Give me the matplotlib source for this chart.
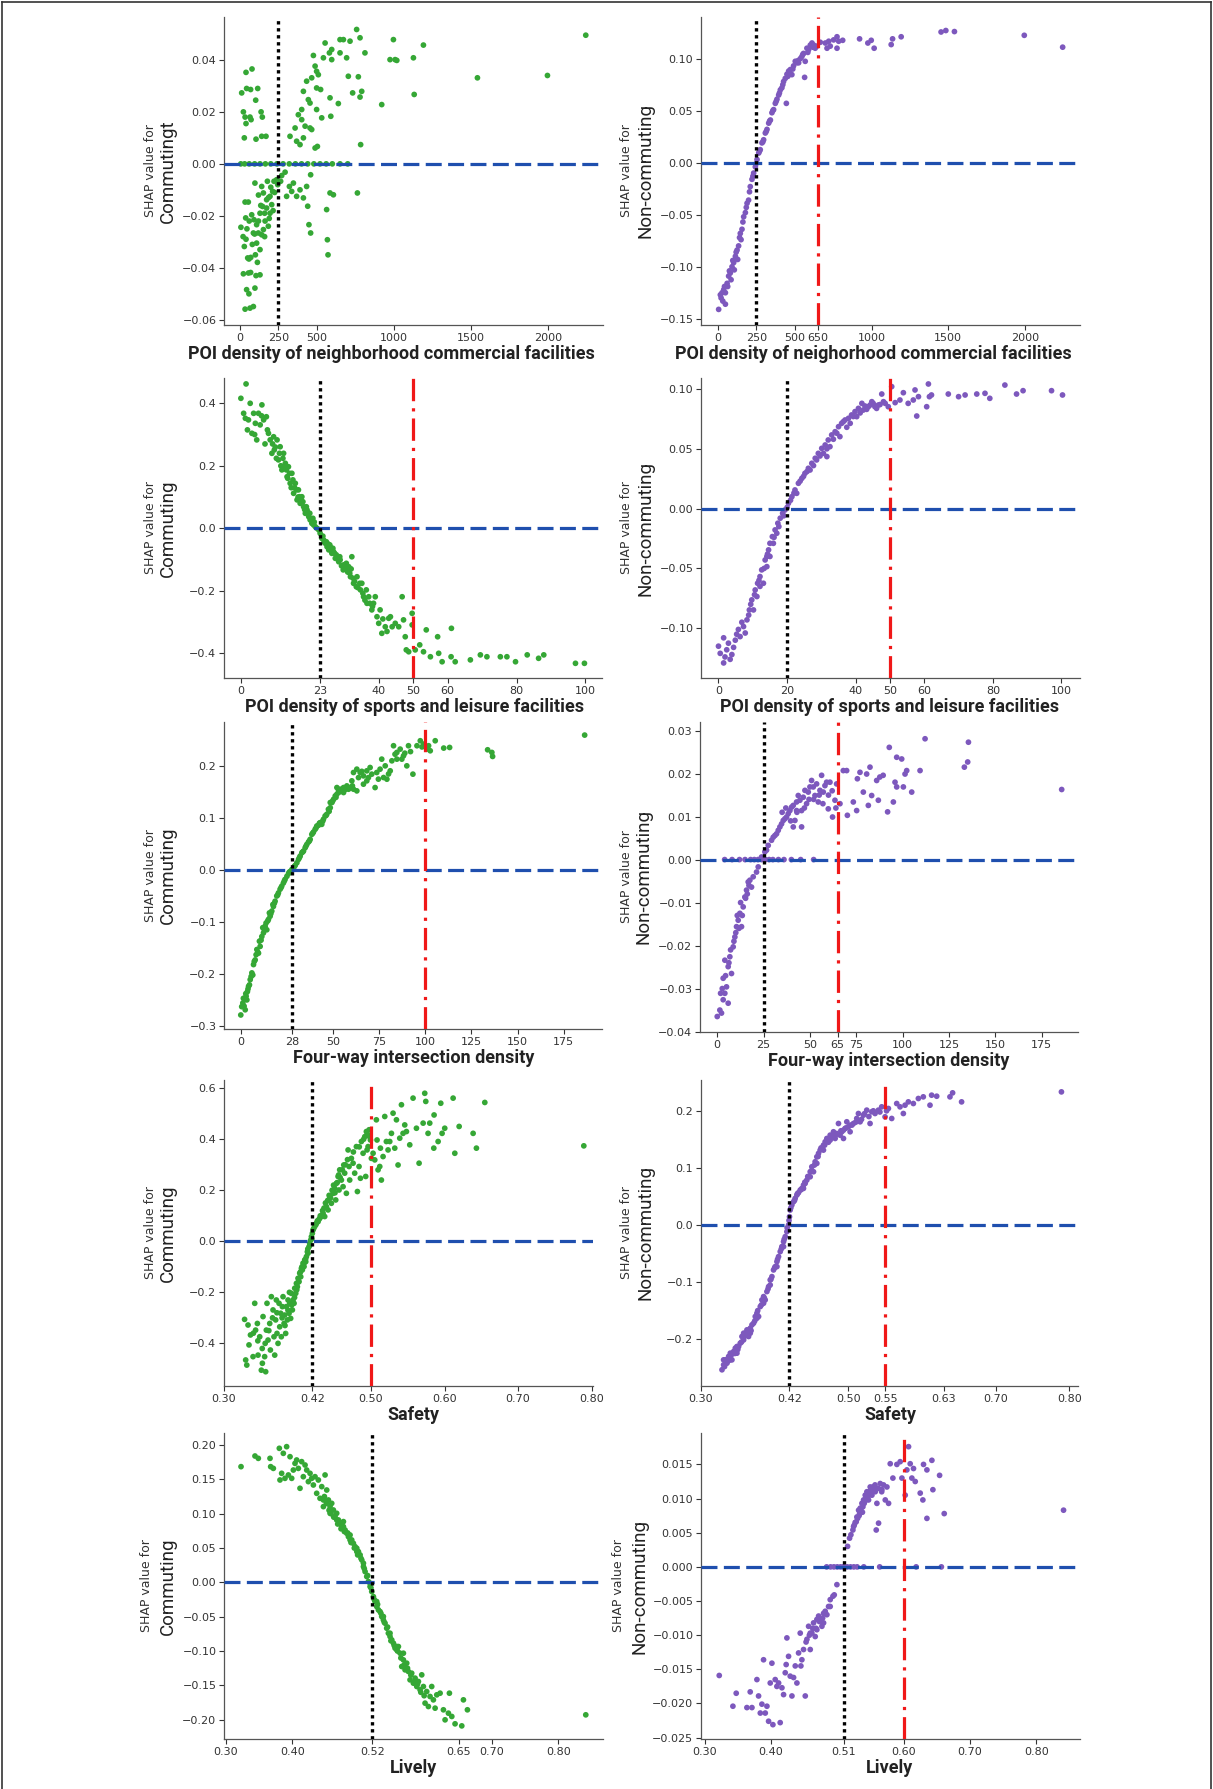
import numpy as np
import matplotlib
matplotlib.use("Agg")
import matplotlib.pyplot as plt
from matplotlib.lines import Line2D

# ---------------- data ----------------
# Panel 1: commuting vs POI density of neighborhood commercial facilities
p1_pts = [(11,0.0273),(39,0.0352),(78,0.0365),(43,0.029),(69,0.0286),(115,0.029),(102,0.0245),(22,0.020),(33,0.018),(39,0.0155),(65,0.018),(137,0.020),(145,0.018),(28,0.010),(104,0.0095),(141,0.0106),(169,0.0106),(72,0.017),
(5,0),(30,0),(60,0),(95,0),(130,0),(165,0),(200,0),(240,0),(280,0),(320,0),(360,0),(400,0),(440,0),(480,0),(520,0),(560,0),(600,0),(650,0),(700,0),
(6,-0.0244),(33,-0.0147),(54,-0.0147),(37,-0.0208),(28,-0.0318),(39,-0.029),(50,-0.0362),(58,-0.0366),(22,-0.0423),(69,-0.0418),(104,-0.043),(43,-0.0484),(58,-0.050),(97,-0.0478),(33,-0.0559),(65,-0.0555),(87,-0.0549),(76,-0.0196),(91,-0.0215),(108,-0.0234),(130,-0.019),(147,-0.0164),(173,-0.0138),(195,-0.0125),(212,-0.0106),(221,-0.0067),(238,-0.0061),(119,-0.0266),(141,-0.0273),(108,-0.0305),(130,-0.033),(152,-0.0253),(163,-0.022),(184,-0.024),(195,-0.019),(173,-0.017),(206,-0.0157),(152,-0.0112),(97,-0.0074),(141,-0.0087),(178,-0.0067),(87,-0.0266),(113,-0.0379),(130,-0.0427),
(271,-0.0045),(293,-0.0032),(321,-0.0087),(347,-0.0074),(368,-0.0125),(390,-0.010),(412,-0.0131),(433,-0.0087),(459,-0.0042),(440,-0.0163),(448,-0.0234),(459,-0.0266),(563,-0.0176),(568,-0.0292),(572,-0.035),(585,-0.0112),(607,-0.0119),(763,-0.0112),(303,-0.0125),(336,-0.0106),(264,-0.0067),
(325,0.0106),(368,0.0087),(390,0.0074),(401,0.0209),(379,0.0189),(412,0.0279),(433,0.0318),(444,0.0247),(466,0.0331),(477,0.0417),(488,0.0376),(498,0.0356),(509,0.0343),(498,0.0292),(524,0.0286),(542,0.0408),(553,0.0465),(581,0.0427),(596,0.044),(650,0.0478),(650,0.0427),(596,0.0401),(672,0.0478),(693,0.0408),(715,0.0472),(758,0.0517),(780,0.0485),(812,0.0427),(704,0.0337),(769,0.0335),(732,0.0273),(780,0.0257),(791,0.0279),(585,0.0254),(639,0.0232),(590,0.0183),(531,0.0177),(498,0.0209),(455,0.0234),(466,0.0132),(412,0.010),(488,0.0061),(503,0.0067),(784,0.0074),(921,0.0228),(975,0.0401),(1008,0.0401),(997,0.0478),(1019,0.0398),(1127,0.0408),(1192,0.0457),(1132,0.0267),(1543,0.0331),(1998,0.034),(2247,0.0495),(358,0.0138),(423,0.0145),(455,0.0138),(401,0.017),
(20,-0.028),(45,-0.025),(60,-0.022),(80,-0.031),(95,-0.027),(120,-0.022),(135,-0.016),(160,-0.019),(185,-0.013),(200,-0.009),(225,-0.011),(245,-0.008),(70,-0.036),(55,-0.042),(100,-0.035),(120,-0.012),(160,-0.028),(190,-0.021),(215,-0.018)]

# Panel 2: non-commuting vs POI density of neighborhood commercial facilities
p2_pts = [(4,-0.141),(15,-0.127),(37,-0.122),(59,-0.116),(80,-0.106),(102,-0.096),(124,-0.084),(145,-0.068),(167,-0.052),(189,-0.039),(210,-0.023),(232,-0.010),(254,0.003),(275,0.0125),(297,0.022),(319,0.032),(341,0.041),(362,0.051),(384,0.061),(406,0.070),(427,0.078),(449,0.085),(471,0.0895),(492,0.093),(514,0.096),(536,0.100),(557,0.105),(579,0.110),(601,0.113),(623,0.113),(644,0.112),
(31,-0.133),(48,-0.125),(69,-0.109),(91,-0.100),(113,-0.090),(134,-0.080),(156,-0.064),(178,-0.048),(199,-0.036),(221,-0.016),(243,-0.004),(265,0.0093),(286,0.019),(308,0.0285),(330,0.038),(351,0.048),(373,0.057),(395,0.065),(416,0.072),(438,0.081),(460,0.088),(481,0.0846),(503,0.0974),(525,0.096),(546,0.102),(568,0.0974),(590,0.1087),(612,0.115),(633,0.110),(564,0.082),(445,0.057),(48,-0.136),(26,-0.125),(63,-0.119),(85,-0.1125),(106,-0.103),(128,-0.093),(150,-0.074),
(20,-0.130),(42,-0.119),(74,-0.104),(96,-0.094),(118,-0.086),(140,-0.072),(162,-0.057),(184,-0.043),(205,-0.028),(227,-0.013),(248,-0.001),(270,0.011),(292,0.020),(314,0.030),(336,0.040),(357,0.050),(379,0.059),(400,0.067),(422,0.075),(455,0.083),(487,0.090),(520,0.098),(552,0.104),(585,0.106),(617,0.111),
(666,0.1157),(699,0.115),(721,0.1167),(753,0.118),(775,0.121),(786,0.1167),(812,0.1176),(775,0.110),(710,0.110),(731,0.112),(922,0.119),(976,0.115),(998,0.1176),(1017,0.110),(1128,0.1135),(1137,0.119),(1193,0.121),(1453,0.1256),(1484,0.127),(1540,0.126),(1995,0.1224),(2245,0.111)]

# Panel 3: commuting vs POI density of sports and leisure facilities
p3_pts = [(1.5,0.462),(0,0.416),(0.8,0.368),(1.3,0.352),(1.9,0.315),(2.7,0.4),(3.2,0.304),(4.2,0.336),(4.6,0.283),(5.1,0.368),(6.1,0.395),(6.6,0.347),(7.4,0.357),(7.7,0.315),(8.5,0.283),(9.0,0.24),(9.7,0.251),(10.5,0.283),(10.9,0.219),(11.4,0.261),(11.9,0.187),(12.4,0.24),(12.9,0.208),(13.4,0.165),(13.8,0.197),(14.3,0.144),(14.8,0.176),(15.3,0.112),(15.8,0.144),(16.3,0.091),(16.7,0.123),(17.2,0.08),(17.7,0.101),(18.2,0.069),(18.7,0.048),(19.2,0.059),(19.7,0.037),(20.1,0.027),(20.6,0.016),(21.1,0.011),(21.6,0.005),(22.1,0.0),(22.6,-0.005),(23.0,-0.016),(23.5,-0.032),(24.0,-0.037),(24.5,-0.048),(25.0,-0.059),(25.5,-0.069),(25.9,-0.059),(26.4,-0.08),(26.9,-0.075),(27.4,-0.096),(27.9,-0.091),(28.4,-0.107),(28.8,-0.101),(29.8,-0.117),(30.8,-0.133),(31.3,-0.123),(32.2,-0.091),(31.8,-0.155),(32.7,-0.176),(33.7,-0.155),(34.7,-0.197),(35.1,-0.176),(35.6,-0.219),(36.6,-0.24),(37.1,-0.219),(38.0,-0.261),(38.5,-0.24),(39.5,-0.283),(40.0,-0.304),(40.4,-0.261),(40.9,-0.336),(41.9,-0.315),(42.9,-0.288),(43.4,-0.283),(43.9,-0.315),(44.8,-0.304),(45.8,-0.315),(46.8,-0.219),(47.2,-0.293),(47.7,-0.347),(48.0,-0.389),(48.7,-0.395),(49.7,-0.272),(49.7,-0.309),(50.6,-0.389),(51.9,-0.373),(53.0,-0.395),(53.8,-0.325),(55.0,-0.411),(57.1,-0.347),(57.4,-0.4),(58.4,-0.427),(61.0,-0.411),(61.1,-0.32),(62.2,-0.427),(66.6,-0.421),(69.5,-0.405),(71.4,-0.411),(75.3,-0.411),(77.2,-0.411),(79.7,-0.427),(83.1,-0.405),(86.4,-0.416),(87.9,-0.405),(97.1,-0.432),(99.7,-0.432),
(2.2,0.347),(3.7,0.368),(5.6,0.331),(8.0,0.304),(9.5,0.293),(10.3,0.224),(11.2,0.24),(12.2,0.224),(13.2,0.187),(14.1,0.176),(15.1,0.155),(16.1,0.123),(17.0,0.101),(18.0,0.085),(19.0,0.069),(20.0,0.048),(20.9,0.032),(24.8,-0.043),(25.8,-0.053),(26.7,-0.064),(27.7,-0.085),(28.7,-0.091),(29.7,-0.133),(30.6,-0.112),(31.6,-0.144),(32.6,-0.16),(33.5,-0.187),(34.5,-0.176),(35.4,-0.208),(36.4,-0.197),(37.4,-0.24),(39.0,-0.219),
(4.0,0.30),(6.0,0.36),(7.0,0.27),(9.2,0.27),(10.0,0.26),(11.6,0.20),(12.7,0.20),(13.6,0.16),(14.6,0.13),(15.6,0.13),(16.6,0.10),(17.5,0.09),(18.5,0.06),(19.5,0.05),(21.3,0.02),(23.8,-0.025),(24.3,-0.045),(25.3,-0.05),(26.2,-0.07),(27.2,-0.08),(28.2,-0.10),(29.2,-0.12),(30.2,-0.12),(31.0,-0.14),(32.0,-0.13),(33.0,-0.17),(34.0,-0.19),(36.0,-0.23),(38.2,-0.25),(41.2,-0.29),(42.4,-0.33)]

# Panel 4: non-commuting vs POI density of sports and leisure facilities
p4_pts = [(0,-0.115),(0.5,-0.121),(1.5,-0.129),(1.9,-0.124),(1.5,-0.108),(2.9,-0.1125),(3.4,-0.126),(3.9,-0.122),(4.9,-0.110),(5.8,-0.101),(6.3,-0.107),(7.3,-0.0986),(7.8,-0.104),(8.3,-0.093),(9.0,-0.0847),(9.7,-0.0763),(10.2,-0.0847),(10.7,-0.068),(11.4,-0.0624),(12.1,-0.0568),(12.6,-0.0512),(13.1,-0.0624),(13.6,-0.0429),(14.1,-0.0485),(14.6,-0.0345),(15.0,-0.029),(15.7,-0.0234),(16.5,-0.0178),(17.3,-0.0122),(18.0,-0.008),(18.7,-0.0039),(19.4,-0.0011),(20.4,0.0045),(21.4,0.010),(22.3,0.0156),(23.3,0.0212),(24.3,0.0253),(25.2,0.0295),(26.2,0.0337),(27.2,0.0379),(28.2,0.0421),(29.1,0.0462),(30.1,0.0504),(31.1,0.0532),(32.0,0.0574),(33.0,0.0616),(34.0,0.0643),(35.0,0.0685),(35.9,0.0713),(36.9,0.0741),(37.9,0.0755),(38.8,0.0783),(39.8,0.0811),(40.8,0.0838),(41.8,0.088),(42.7,0.0858),(43.7,0.0852),(44.7,0.0894),(45.6,0.0852),(46.6,0.0866),(47.6,0.0958),(48.6,0.088),(49.5,0.0852),(50.5,0.102),(51.5,0.0886),(52.9,0.0908),(53.9,0.0969),(55.3,0.088),(56.8,0.0908),(57.3,0.0992),(57.8,0.0774),(58.3,0.0936),(60.7,0.0852),(61.2,0.1042),(61.5,0.0936),(62.1,0.095),(67.0,0.0958),(70.0,0.0936),(71.9,0.095),(75.3,0.0958),(77.7,0.0964),(79.1,0.0922),(83.5,0.1033),(86.9,0.0958),(88.8,0.0986),(97.1,0.0986),(100.3,0.095),
(15.0,-0.040),(16.0,-0.029),(17.0,-0.0206),(11.2,-0.0735),(12.1,-0.065),(14.1,-0.040),(22.8,0.0128),(26.7,0.0323),(28.6,0.0407),(30.6,0.0462),(32.5,0.0518),(34.5,0.063),(36.4,0.0727),(38.4,0.0713),(40.3,0.0769),(42.2,0.0824),(44.2,0.0866),(46.1,0.0838),(48.1,0.0894),(35.4,0.0602),(31.6,0.0435),
(2.4,-0.118),(4.4,-0.116),(5.3,-0.105),(6.8,-0.095),(8.8,-0.089),(9.4,-0.080),(10.5,-0.072),(11.8,-0.060),(13.3,-0.050),(14.3,-0.038),(16.2,-0.024),(17.6,-0.015),(19.0,-0.006),(20.0,0.001),(21.0,0.007),(22.0,0.013),(23.8,0.023),(24.8,0.027),(25.8,0.031),(27.7,0.036),(29.6,0.044),(31.6,0.050),(33.5,0.058),(37.4,0.068),(39.3,0.077),(41.3,0.080),(43.2,0.083),(45.1,0.088),(47.1,0.087)]

# Panel 5: commuting vs four-way intersection density
p5_pts = [(0,-0.279),(0.5,-0.263),(1.4,-0.247),(2.4,-0.269),(3.3,-0.25),(3.6,-0.234),(4.2,-0.224),(5.1,-0.211),(6.0,-0.198),(6.9,-0.182),(7.8,-0.173),(8.7,-0.153),(9.6,-0.16),(10.5,-0.147),(11.4,-0.128),(12.3,-0.121),(13.2,-0.108),(14.1,-0.115),(15.0,-0.095),(15.9,-0.089),(16.8,-0.079),(17.7,-0.07),(18.6,-0.06),(19.5,-0.05),(20.4,-0.044),(21.3,-0.037),(22.2,-0.031),(23.1,-0.025),(24.0,-0.018),(25.0,-0.012),(25.9,-0.0066),(26.8,-0.0027),(27.7,0.0011),(28.6,0.0044),(29.5,0.0089),(30.4,0.014),(31.3,0.0205),(32.2,0.027),(33.1,0.0334),(34.0,0.0366),(34.9,0.043),(35.8,0.0494),(36.7,0.054),(37.6,0.0591),(38.5,0.0687),(39.4,0.0732),(40.3,0.0784),(41.2,0.0848),(42.1,0.0861),(43.0,0.0912),(43.9,0.088),(44.8,0.0977),(45.7,0.104),(46.6,0.1073),(47.5,0.117),(48.5,0.120),(49.4,0.130),(50.3,0.1363),(51.2,0.1427),(52.1,0.146),(53.0,0.1524),(53.9,0.1556),(55.7,0.1588),(57.5,0.162),(59.3,0.1588),(61.1,0.1556),(62.9,0.1524),(60.2,0.1717),(61.1,0.1878),(62.9,0.1942),(64.7,0.1878),(66.5,0.1813),(68.3,0.1717),(70.1,0.1974),(72.8,0.1588),(73.7,0.1878),(75.5,0.1942),(76.4,0.2135),(77.4,0.1781),(79.2,0.1749),(81.0,0.191),(81.9,0.2103),(82.8,0.2393),(84.6,0.2264),(86.4,0.2328),(87.3,0.2135),(88.2,0.2199),(90.0,0.2006),(90.9,0.2393),(93.3,0.1846),(95.5,0.2393),(97.3,0.2489),(99.1,0.2425),(100.8,0.2328),(101.8,0.2393),(102.7,0.2296),(105.4,0.2489),(110.0,0.2348),(113.2,0.236),(133.8,0.2315),(136.1,0.2264),(136.5,0.2187),(186.4,0.2598),
(1.1,-0.256),(2.9,-0.243),(4.7,-0.221),(6.5,-0.202),(8.3,-0.163),(10.1,-0.137),(11.9,-0.111),(13.7,-0.102),(15.5,-0.0825),(17.4,-0.0664),(48.5,0.13),(52.1,0.1588),(55.7,0.1492),(58.4,0.1556),(66.5,0.1653),(68.3,0.191),(71.0,0.1846),(78.3,0.2006),(84.6,0.2135),
(1.8,-0.262),(2.7,-0.238),(3.9,-0.229),(5.6,-0.205),(7.3,-0.176),(9.2,-0.158),(11.0,-0.135),(12.8,-0.115),(14.6,-0.098),(16.3,-0.084),(18.2,-0.064),(20.0,-0.048),(21.8,-0.034),(23.6,-0.021),(26.3,-0.004),(29.0,0.007),(31.8,0.024),(33.6,0.035),(35.3,0.046),(37.2,0.056),(39.0,0.071),(40.8,0.081),(42.6,0.090),(44.4,0.094),(46.2,0.105),(47.9,0.113),(49.8,0.133),(51.6,0.140),(53.4,0.150),(56.6,0.155),(60.5,0.162),(63.8,0.178),(65.6,0.190),(69.2,0.178),(74.6,0.175),(80.1,0.185),(83.6,0.223),(88.9,0.225),(92.0,0.228),(98.2,0.237)]

# Panel 6: non-commuting vs four-way intersection density
p6_pts = [(0,-0.0365),(1.4,-0.035),(2.3,-0.0357),(3.2,-0.0326),(1.8,-0.0311),(4.1,-0.0311),(5.0,-0.0296),(3.2,-0.0276),(5.9,-0.0334),(4.1,-0.0234),(5.9,-0.0249),(6.8,-0.0226),(7.7,-0.0265),(8.6,-0.0203),(9.5,-0.018),(10.4,-0.0156),(11.3,-0.0141),(12.2,-0.0125),(13.1,-0.0156),(14.0,-0.011),(14.9,-0.0087),(15.8,-0.0071),(16.7,-0.0052),(17.6,-0.0048),(18.5,-0.0064),(19.4,-0.004),(21.2,-0.0029),(22.1,-0.0017),(23.9,0.0006),(25.7,0.0018),(27.5,0.0033),(29.3,0.0045),(31.1,0.0056),(32.9,0.0068),(34.7,0.0083),(36.5,0.0095),(38.3,0.0107),(40.1,0.0122),(41.0,0.0076),(41.9,0.0091),(42.8,0.0134),(43.7,0.0149),(45.5,0.0114),(45.5,0.0076),(46.4,0.0145),(48.2,0.013),(49.1,0.0157),(50.9,0.0184),(51.8,0.0169),(53.6,0.0176),(55.4,0.0161),(56.3,0.0196),(58.1,0.0172),(59.9,0.0118),(60.8,0.018),(62.2,0.0099),(63.5,0.0138),(64.4,0.0176),(66.2,0.013),(68.0,0.0207),(69.8,0.0207),(70.2,0.0103),(73.4,0.0134),(75.2,0.0114),(75.6,0.0188),(77.0,0.0203),(78.8,0.0157),(80.6,0.0199),(81.5,0.0126),(82.4,0.0215),(83.3,0.0149),(86.0,0.0184),(86.9,0.0138),(87.7,0.0192),(89.5,0.0196),(91.9,0.0111),(92.8,0.0261),(95.0,0.0134),(95.9,0.018),(96.8,0.0238),(96.8,0.0169),(99.5,0.0234),(100.4,0.0169),(101.3,0.0199),(102.2,0.0207),(104.9,0.0157),(109.4,0.0207),(112.1,0.0281),(133.3,0.0215),(135.1,0.0227),(135.5,0.0273),(185.8,0.0163),
(4,0),(8,0),(12,0),(15,0),(18,0),(20,0),(22,0),(24,0),(26,0),(28,0),(30,0),(33,0),(36,0),(40,0),(45,0),(52,0),
(26.6,0.0022),(30.2,0.0052),(32.0,0.006),(33.8,0.0076),(35.6,0.0091),(37.4,0.0099),(39.2,0.0114),(41.0,0.0126),(42.8,0.0114),(44.6,0.0138),(47.3,0.0161),(50.0,0.0169),(52.7,0.0149),(54.5,0.0134),(57.2,0.0157),(59.0,0.018),
(2.7,-0.030),(4.5,-0.027),(6.3,-0.024),(7.2,-0.021),(9.0,-0.019),(10.0,-0.017),(10.8,-0.013),(11.7,-0.016),(12.6,-0.010),(13.5,-0.013),(15.3,-0.009),(16.2,-0.008),(17.1,-0.006),(35.0,0.011),(37.0,0.012),(39.6,0.009),(43.0,0.011),(47.0,0.012),(49.5,0.014),(52.0,0.014),(55.0,0.015),(57.0,0.013),(60.0,0.015),(62.0,0.016),(64.0,0.012)]

# Panel 7: commuting vs safety
p7_pts = [(0.328,-0.306),(0.3295,-0.465),(0.331,-0.485),(0.3327,-0.328),(0.334,-0.406),(0.336,-0.367),(0.3395,-0.452),(0.3418,-0.243),(0.343,-0.348),(0.3454,-0.322),(0.3463,-0.446),(0.3486,-0.374),(0.3508,-0.505),(0.3522,-0.478),(0.3531,-0.295),(0.3553,-0.452),(0.3567,-0.511),(0.3576,-0.348),(0.3585,-0.243),(0.3599,-0.387),(0.3622,-0.322),(0.3631,-0.426),(0.3644,-0.217),(0.3667,-0.269),(0.368,-0.374),(0.369,-0.446),(0.3703,-0.308),(0.3712,-0.23),(0.3721,-0.361),(0.3735,-0.4),(0.3749,-0.243),(0.3758,-0.335),(0.3771,-0.282),(0.378,-0.374),(0.3794,-0.256),(0.3803,-0.217),(0.3817,-0.322),(0.3826,-0.289),(0.3839,-0.361),(0.3848,-0.256),(0.3862,-0.308),(0.3871,-0.23),(0.3885,-0.282),(0.3894,-0.243),(0.3907,-0.302),(0.3917,-0.204),(0.393,-0.269),(0.3939,-0.23),(0.3953,-0.243),(0.3962,-0.184),(0.3976,-0.204),(0.3985,-0.165),(0.3998,-0.178),(0.4007,-0.145),(0.4021,-0.158),(0.403,-0.125),(0.4044,-0.139),(0.4053,-0.106),(0.4066,-0.112),(0.4075,-0.086),(0.4089,-0.099),(0.4098,-0.073),(0.4112,-0.08),(0.4121,-0.06),(0.4134,-0.041),(0.4143,-0.047),(0.4157,-0.021),(0.4166,-0.008),(0.418,0.005),(0.4189,0.018),(0.4202,0.031),(0.4211,0.044),(0.4234,0.058),(0.4257,0.071),(0.428,0.077),(0.4302,0.09),(0.4325,0.097),(0.4348,0.11),(0.437,0.097),(0.4393,0.136),(0.4416,0.123),(0.4438,0.169),(0.4461,0.149),(0.4484,0.188),(0.4506,0.208),(0.452,0.162),(0.4529,0.227),(0.4552,0.254),(0.4565,0.201),(0.4574,0.28),(0.4597,0.24),(0.462,0.214),(0.4629,0.299),(0.4642,0.267),(0.4665,0.188),(0.4688,0.358),(0.4701,0.293),(0.471,0.24),(0.4733,0.325),(0.4756,0.306),(0.4778,0.267),(0.4801,0.371),(0.4815,0.195),(0.4837,0.293),(0.4856,0.247),(0.4869,0.391),(0.4892,0.345),(0.4915,0.41),(0.4928,0.254),(0.4937,0.43),(0.4946,0.358),(0.496,0.371),(0.4974,0.437),(0.4992,0.397),(0.5005,0.325),(0.5028,0.345),(0.5051,0.319),(0.5073,0.476),(0.5082,0.397),(0.5096,0.28),(0.5119,0.293),(0.5128,0.365),(0.5141,0.24),(0.5164,0.332),(0.5187,0.489),(0.5209,0.391),(0.5232,0.358),(0.5255,0.391),(0.5278,0.423),(0.53,0.502),(0.5323,0.365),(0.5346,0.476),(0.5368,0.299),(0.5391,0.404),(0.5414,0.535),(0.5436,0.423),(0.5459,0.456),(0.5482,0.43),(0.5527,0.378),(0.5572,0.561),(0.5618,0.443),(0.5654,0.306),(0.5709,0.463),(0.5731,0.58),(0.5745,0.548),(0.5776,0.423),(0.5799,0.463),(0.5854,0.365),(0.5858,0.495),(0.5913,0.391),(0.5949,0.541),(0.5967,0.423),(0.6003,0.443),(0.6117,0.561),(0.614,0.345),(0.6199,0.45),(0.6389,0.423),(0.6434,0.365),(0.6548,0.544),(0.7895,0.374),
(0.404,-0.12),(0.406,-0.10),(0.409,-0.085),(0.411,-0.07),(0.414,-0.03),(0.417,-0.015),(0.4195,0.01),(0.422,0.05),(0.425,0.065),(0.427,0.08),(0.429,0.085),(0.431,0.10),(0.434,0.12),(0.436,0.13),(0.438,0.15),(0.441,0.16),(0.443,0.18),(0.445,0.17),(0.447,0.20),(0.449,0.22),(0.451,0.19),(0.454,0.23),(0.456,0.26),(0.458,0.25),(0.461,0.28),(0.465,0.30),(0.468,0.32),(0.476,0.35),(0.484,0.37),(0.490,0.40),(0.495,0.42),(0.498,0.41),(0.389,-0.20),(0.392,-0.25),(0.396,-0.22),(0.399,-0.19),(0.401,-0.16),(0.387,-0.27),(0.383,-0.33),(0.379,-0.30),(0.372,-0.28),(0.366,-0.30),(0.361,-0.35),(0.356,-0.40),(0.352,-0.42),(0.346,-0.39),(0.340,-0.36)]

# Panel 8: non-commuting vs safety
p8_pts = [(0.3285,-0.2536),(0.3307,-0.2449),(0.333,-0.2362),(0.3353,-0.242),(0.3375,-0.2303),(0.3398,-0.2245),(0.342,-0.2362),(0.3443,-0.2216),(0.3466,-0.2157),(0.3488,-0.2245),(0.3511,-0.2128),(0.3533,-0.207),(0.3556,-0.1953),(0.3579,-0.2012),(0.3601,-0.1895),(0.3624,-0.1837),(0.3646,-0.1953),(0.3669,-0.1808),(0.3692,-0.1749),(0.3714,-0.172),(0.3737,-0.1603),(0.3759,-0.1545),(0.3782,-0.1603),(0.3805,-0.1429),(0.3827,-0.1312),(0.385,-0.1254),(0.3872,-0.1312),(0.3895,-0.1166),(0.3918,-0.1079),(0.394,-0.0962),(0.3963,-0.0904),(0.3985,-0.0787),(0.4008,-0.0729),(0.4031,-0.0641),(0.4053,-0.0554),(0.4076,-0.0466),(0.4098,-0.0379),(0.4121,-0.0292),(0.4144,-0.0204),(0.4166,-0.0117),(0.4189,0.0),(0.4202,0.0146),(0.4211,0.0262),(0.4234,0.035),(0.4257,0.0408),(0.4279,0.0466),(0.4302,0.0525),(0.4324,0.0566),(0.4347,0.0612),(0.437,0.0641),(0.4392,0.07),(0.4415,0.0729),(0.4437,0.0787),(0.446,0.0845),(0.4483,0.0933),(0.4505,0.102),(0.4528,0.0933),(0.455,0.1108),(0.4573,0.1195),(0.4596,0.1254),(0.4618,0.1312),(0.4641,0.1341),(0.4663,0.1399),(0.4686,0.1458),(0.4709,0.1516),(0.4731,0.1487),(0.4754,0.1574),(0.4776,0.1545),(0.4799,0.1633),(0.4822,0.1516),(0.4844,0.1603),(0.4867,0.1778),(0.4889,0.1574),(0.4912,0.1633),(0.4935,0.1516),(0.4957,0.1691),(0.498,0.1808),(0.5002,0.172),(0.5025,0.1633),(0.507,0.1778),(0.5115,0.1866),(0.5138,0.1953),(0.5161,0.1808),(0.5206,0.1924),(0.5251,0.2012),(0.5296,0.1778),(0.5319,0.1983),(0.5364,0.1953),(0.5409,0.2012),(0.5454,0.207),(0.55,0.1895),(0.5545,0.2041),(0.559,0.1866),(0.5658,0.2128),(0.5703,0.207),(0.5748,0.1953),(0.5771,0.2099),(0.5816,0.2157),(0.5884,0.2128),(0.5952,0.2216),(0.6019,0.2245),(0.611,0.2099),(0.6132,0.2274),(0.6201,0.2256),(0.6381,0.2245),(0.6417,0.2315),(0.6539,0.2157),(0.7895,0.2332),
(0.3307,-0.2362),(0.3398,-0.2362),(0.3488,-0.2128),(0.3579,-0.1895),(0.3669,-0.1895),(0.3759,-0.1633),(0.385,-0.137),(0.394,-0.105),(0.4031,-0.0729),(0.4121,-0.0379),(0.4392,0.0641),(0.4483,0.0845),(0.4573,0.1079),(0.4663,0.1312),(0.4754,0.1487),(0.4935,0.1662),(0.5025,0.1749),
(0.332,-0.248),(0.337,-0.238),(0.341,-0.228),(0.346,-0.225),(0.350,-0.218),(0.355,-0.205),(0.359,-0.195),(0.364,-0.185),(0.368,-0.185),(0.373,-0.168),(0.377,-0.150),(0.382,-0.140),(0.386,-0.128),(0.391,-0.112),(0.395,-0.095),(0.400,-0.075),(0.404,-0.060),(0.409,-0.042),(0.413,-0.025),(0.417,-0.005),(0.4195,0.008),(0.422,0.030),(0.427,0.043),(0.431,0.055),(0.436,0.062),(0.441,0.075),(0.445,0.085),(0.450,0.095),(0.454,0.105),(0.459,0.120),(0.463,0.135),(0.468,0.140),(0.473,0.145),(0.478,0.155),(0.483,0.158),(0.490,0.165),(0.497,0.170),(0.505,0.175),(0.510,0.180),(0.518,0.185),(0.522,0.195),(0.528,0.190),(0.534,0.200),(0.543,0.198),(0.552,0.200)]

# Panel 9: commuting vs lively
p9_pts = [(0.3226,0.1685),(0.3436,0.184),(0.3486,0.1806),(0.3662,0.1806),(0.3672,0.1685),(0.3712,0.166),(0.3802,0.1952),(0.3812,0.1491),(0.3837,0.1588),(0.3862,0.1879),(0.3887,0.1515),(0.3912,0.1976),(0.3938,0.1564),(0.3963,0.183),(0.3988,0.1515),(0.4013,0.1636),(0.4038,0.1733),(0.4063,0.1782),(0.4088,0.166),(0.4113,0.137),(0.4138,0.1758),(0.4163,0.1539),(0.4189,0.1709),(0.4214,0.1636),(0.4239,0.1467),(0.4264,0.1588),(0.4289,0.1515),(0.4314,0.1418),(0.4339,0.1539),(0.4364,0.1297),(0.4389,0.1491),(0.4414,0.1224),(0.444,0.1394),(0.4465,0.1103),(0.449,0.1564),(0.4515,0.1345),(0.454,0.12),(0.4565,0.1006),(0.459,0.1151),(0.4615,0.1054),(0.464,0.0957),(0.4665,0.1006),(0.4691,0.0909),(0.4716,0.086),(0.4741,0.0812),(0.4766,0.0885),(0.4791,0.0763),(0.4816,0.0715),(0.4841,0.0666),(0.4866,0.069),(0.4891,0.0618),(0.4916,0.0569),(0.4941,0.0521),(0.4967,0.0497),(0.4992,0.0448),(0.5017,0.04),(0.5042,0.0327),(0.5067,0.023),(0.5092,0.0157),(0.5117,0.0085),(0.5142,0.0012),(0.5167,-0.0061),(0.5192,-0.0134),(0.5217,-0.0207),(0.5242,-0.0279),(0.5267,-0.0352),(0.5292,-0.04),(0.5317,-0.0425),(0.5342,-0.0497),(0.5367,-0.0546),(0.5392,-0.0594),(0.5417,-0.0667),(0.5442,-0.074),(0.5467,-0.0788),(0.5493,-0.0837),(0.5518,-0.0885),(0.5543,-0.0958),(0.5568,-0.0982),(0.5593,-0.0934),(0.5618,-0.1031),(0.5643,-0.1225),(0.5668,-0.1128),(0.5693,-0.1273),(0.5718,-0.1176),(0.5743,-0.1297),(0.5768,-0.1419),(0.5793,-0.1322),(0.5818,-0.1467),(0.5844,-0.1394),(0.5869,-0.1516),(0.5894,-0.1443),(0.5919,-0.1564),(0.5944,-0.1346),(0.5969,-0.1516),(0.5994,-0.1758),(0.6019,-0.1589),(0.6044,-0.1807),(0.6069,-0.1661),(0.6094,-0.1516),(0.6119,-0.171),(0.6145,-0.1831),(0.617,-0.1637),(0.622,-0.1613),(0.627,-0.1855),(0.6295,-0.2001),(0.6345,-0.1904),(0.636,-0.1613),(0.6396,-0.1952),(0.6445,-0.2059),(0.6546,-0.2089),(0.6571,-0.171),(0.6631,-0.1855),(0.8411,-0.1928),
(0.4665,0.0909),(0.4766,0.0812),(0.4866,0.0618),(0.4967,0.0448),(0.5067,0.0279),(0.5167,-0.0012),(0.5267,-0.0279),(0.5367,-0.0497),(0.5467,-0.074),(0.5568,-0.0934),(0.5668,-0.1031),(0.4565,0.1103),(0.4465,0.12),
(0.448,0.125),(0.451,0.115),(0.455,0.105),(0.458,0.10),(0.462,0.095),(0.468,0.085),(0.473,0.078),(0.478,0.074),(0.483,0.072),(0.488,0.058),(0.493,0.050),(0.498,0.040),(0.503,0.035),(0.508,0.020),(0.513,0.010),(0.518,-0.008),(0.523,-0.025),(0.528,-0.032),(0.533,-0.045),(0.538,-0.058),(0.543,-0.065),(0.548,-0.085),(0.553,-0.092),(0.558,-0.100),(0.563,-0.110),(0.568,-0.120),(0.573,-0.125),(0.578,-0.135),(0.583,-0.145),(0.588,-0.148),(0.593,-0.160),(0.598,-0.165)]

# Panel 10: non-commuting vs lively
p10_pts = [(0.3221,-0.0159),(0.3427,-0.0204),(0.3477,-0.0185),(0.3638,-0.0206),(0.3688,-0.0183),(0.3714,-0.0206),(0.3789,-0.0165),(0.3814,-0.0189),(0.384,-0.0214),(0.3864,-0.0201),(0.3889,-0.0136),(0.3915,-0.0214),(0.394,-0.0204),(0.3965,-0.0226),(0.399,-0.017),(0.4015,-0.0141),(0.403,-0.0231),(0.4065,-0.0165),(0.409,-0.0175),(0.4116,-0.017),(0.414,-0.0228),(0.4166,-0.0177),(0.4191,-0.0187),(0.4216,-0.0155),(0.423,-0.0143),(0.4241,-0.0104),(0.4266,-0.0131),(0.4291,-0.016),(0.4317,-0.0189),(0.4342,-0.0162),(0.4367,-0.0145),(0.4392,-0.017),(0.4417,-0.0126),(0.4442,-0.0097),(0.4452,-0.0145),(0.4467,-0.0136),(0.4492,-0.0121),(0.4518,-0.0189),(0.4543,-0.0106),(0.4568,-0.0087),(0.4593,-0.0121),(0.4618,-0.0097),(0.4643,-0.0082),(0.4668,-0.0102),(0.4693,-0.0092),(0.4719,-0.0072),(0.4744,-0.0077),(0.4769,-0.0087),(0.4794,-0.0068),(0.4819,-0.0065),(0.4844,-0.007),(0.4869,-0.0058),(0.4894,-0.0048),(0.4935,-0.0043),(0.4955,-0.0041),(0.4995,-0.0026),(0.5095,0.0),(0.5156,0.003),(0.5186,0.0042),(0.5206,0.0047),(0.5236,0.0054),(0.5256,0.0061),(0.5286,0.0066),(0.5307,0.0071),(0.5337,0.0078),(0.5357,0.0083),(0.5387,0.0088),(0.5407,0.0093),(0.5437,0.0098),(0.5457,0.0103),(0.5487,0.0108),(0.5507,0.0113),(0.5538,0.0117),(0.5573,0.011),(0.5588,0.0054),(0.5598,0.0093),(0.5623,0.0064),(0.5648,0.0122),(0.5673,0.0113),(0.5698,0.012),(0.5724,0.0098),(0.5749,0.0117),(0.5774,0.0093),(0.5799,0.0151),(0.5839,0.013),(0.5899,0.015),(0.5949,0.0154),(0.5975,0.013),(0.6025,0.0105),(0.605,0.0142),(0.6075,0.0176),(0.61,0.0151),(0.6125,0.013),(0.615,0.0144),(0.6176,0.0125),(0.6251,0.0108),(0.6291,0.0098),(0.6301,0.015),(0.6352,0.0142),(0.6352,0.0071),(0.6427,0.0156),(0.6442,0.0113),(0.6543,0.0134),(0.6613,0.0078),(0.8412,0.0083),
(0.484,0),(0.49,0),(0.495,0),(0.50,0),(0.505,0),(0.51,0),(0.515,0),(0.52,0),(0.525,0),(0.53,0),(0.54,0),(0.564,0),(0.619,0),(0.657,0),
(0.5246,0.0059),(0.5296,0.0073),(0.5347,0.0086),(0.5397,0.0098),(0.5447,0.011),(0.5497,0.0117),(0.5548,0.0115),(0.5322,0.0083),(0.5372,0.0093),(0.5422,0.0105),(0.5472,0.0098),(0.5523,0.0105),(0.4593,-0.0097),(0.4693,-0.0077),(0.4794,-0.0082),(0.4894,-0.0058),
(0.453,-0.011),(0.458,-0.010),(0.463,-0.009),(0.468,-0.009),(0.473,-0.008),(0.478,-0.0075),(0.527,0.0065),(0.533,0.0075),(0.538,0.008),(0.543,0.010),(0.548,0.0105),(0.553,0.011),(0.557,0.012),(0.562,0.0115),(0.567,0.011)]

xlabels = ["POI density of neighborhood commercial facilities", "POI density of neighorhood commercial facilities",
           "POI density of sports and leisure facilities", "POI density of sports and leisure facilities",
           "Four-way intersection density", "Four-way intersection density",
           "Safety", "Safety", "Lively", "Lively"]
ylabels2 = ["Commutingt", "Non-commuting", "Commuting", "Non-commuting", "Commuting", "Non-commuting",
            "Commuting", "Non-commuting", "Commuting", "Non-commuting"]
xticks = [[0, 250, 500, 1000, 1500, 2000], [0, 250, 500, 650, 1000, 1500, 2000],
          [0, 23, 40, 50, 60, 80, 100], [0, 20, 40, 50, 60, 80, 100],
          [0, 28, 50, 75, 100, 125, 150, 175], [0, 25, 50, 65, 75, 100, 125, 150, 175],
          [0.30, 0.42, 0.50, 0.60, 0.70, 0.80], [0.30, 0.42, 0.50, 0.55, 0.63, 0.70, 0.80],
          [0.30, 0.40, 0.52, 0.65, 0.70, 0.80], [0.30, 0.40, 0.51, 0.60, 0.70, 0.80]]
yticks = [[-0.06, -0.04, -0.02, 0.0, 0.02, 0.04], [-0.15, -0.10, -0.05, 0.0, 0.05, 0.10],
          [-0.4, -0.2, 0.0, 0.2, 0.4], [-0.10, -0.05, 0.0, 0.05, 0.10],
          [-0.3, -0.2, -0.1, 0.0, 0.1, 0.2], [-0.04, -0.03, -0.02, -0.01, 0.0, 0.01, 0.02, 0.03],
          [-0.4, -0.2, 0.0, 0.2, 0.4, 0.6], [-0.2, -0.1, 0.0, 0.1, 0.2],
          [-0.20, -0.15, -0.10, -0.05, 0.0, 0.05, 0.10, 0.15, 0.20],
          [-0.025, -0.020, -0.015, -0.010, -0.005, 0.0, 0.005, 0.010, 0.015]]
xfmt = ["{:.0f}"] * 6 + ["{:.2f}"] * 4
yfmt = ["{:.2f}", "{:.2f}", "{:.1f}", "{:.2f}", "{:.1f}", "{:.2f}", "{:.1f}", "{:.1f}", "{:.2f}", "{:.3f}"]
black_lines = [250, 250, 23, 20, 28, 25, 0.42, 0.42, 0.52, 0.51]
red_lines = [None, 650, 50, 50, 100, 65, 0.50, 0.55, None, 0.60]

all_pts = [p1_pts, p2_pts, p3_pts, p4_pts, p5_pts, p6_pts, p7_pts, p8_pts, p9_pts, p10_pts]

# ---------------- layout ----------------
W, H = 1213, 1789
fig = plt.figure(figsize=(W / 100, H / 100), dpi=100)

boxes = [(224, 603, 17, 325), (701, 1080, 17, 325),
         (224, 602, 378, 678), (701, 1080, 378, 678),
         (224, 602, 722, 1029), (700, 1078, 722, 1032),
         (224, 593, 1080, 1386), (701, 1078, 1080, 1386),
         (224, 603, 1433, 1739), (701, 1080, 1433, 1739)]
xlims = [(-104, 2359), (-111, 2358), (-4.9, 104.8), (-5.1, 105.4), (-9.1, 195.8), (-9.3, 194.6),
         (0.30, 0.802), (0.30, 0.812), (0.297, 0.867), (0.2946, 0.866)]
ylims = [(-0.062, 0.0565), (-0.156, 0.140), (-0.479, 0.481), (-0.1416, 0.1092), (-0.306, 0.285),
         (-0.0401, 0.032), (-0.567, 0.632), (-0.282, 0.254), (-0.228, 0.2175), (-0.0252, 0.0196)]
xlabel_cx = [0.442, 0.454, 0.504, 0.497, 0.503, 0.5, 0.514, 0.501, 0.501, 0.497]
ylab_off = [(73, 56), (74, 56), (73, 56), (74, 56), (73, 56), (74, 56), (73, 56), (74, 56), (77, 56), (82, 62)]

green = "#35a735"
purple = "#7d58bd"
blue = "#1f4fae"
red = "#f01818"

label_font = ["Roboto", "DejaVu Sans"]

for i, pts in enumerate(all_pts):
    l, r, t, b = boxes[i]
    ax = fig.add_axes([l / W, 1 - b / H, (r - l) / W, (b - t) / H])
    arr = np.array(pts, dtype=float)
    color = green if i % 2 == 0 else purple
    ax.scatter(arr[:, 0], arr[:, 1], s=17, color=color, edgecolors="none", zorder=2)
    ax.axhline(0, color=blue, lw=2.3, ls=(0, (5, 2)), zorder=3)
    ax.axvline(black_lines[i], color="black", lw=2.4, ls=(0, (1, 1.1)), zorder=4)
    if red_lines[i] is not None:
        ax.axvline(red_lines[i], color=red, lw=2.3, ls=(0, (7, 2.2, 1, 2.2)), zorder=4)
    ax.set_xlim(*xlims[i])
    ax.set_ylim(*ylims[i])
    ax.set_xticks(xticks[i])
    ax.set_xticklabels([xfmt[i].format(v) for v in xticks[i]])
    ax.set_yticks(yticks[i])
    ax.set_yticklabels([yfmt[i].format(v).replace("-", "\u2212") for v in yticks[i]])
    ax.tick_params(labelsize=8, length=3.5, width=0.8, colors="#333333", pad=2)
    for s in ("top", "right"):
        ax.spines[s].set_visible(False)
    for s in ("left", "bottom"):
        ax.spines[s].set_color("#555555")
        ax.spines[s].set_linewidth(0.9)
    ax.text(xlabel_cx[i], -29 / (b - t), xlabels[i], transform=ax.transAxes,
            ha="center", va="center", fontsize=13, fontweight="bold",
            family=label_font, color="#222222")
    o1, o2 = ylab_off[i]
    cy = 1 - (t + b) / 2 / H
    fig.text((l - o1) / W, cy, "SHAP value for", rotation=90, ha="center", va="center",
             fontsize=9, color="#333333")
    fig.text((l - o2) / W, cy, ylabels2[i], rotation=90, ha="center", va="center",
             fontsize=13.5, family=label_font, color="#222222")

fig.add_artist(Line2D([0.002, 0.002], [0, 0.999], transform=fig.transFigure, color="#333333", lw=1.2))
fig.add_artist(Line2D([0.002, 0.998], [0.999, 0.999], transform=fig.transFigure, color="#333333", lw=1.2))
fig.add_artist(Line2D([0.998, 0.998], [0, 0.999], transform=fig.transFigure, color="#333333", lw=1.2))

fig.savefig("out.png", dpi=100)
